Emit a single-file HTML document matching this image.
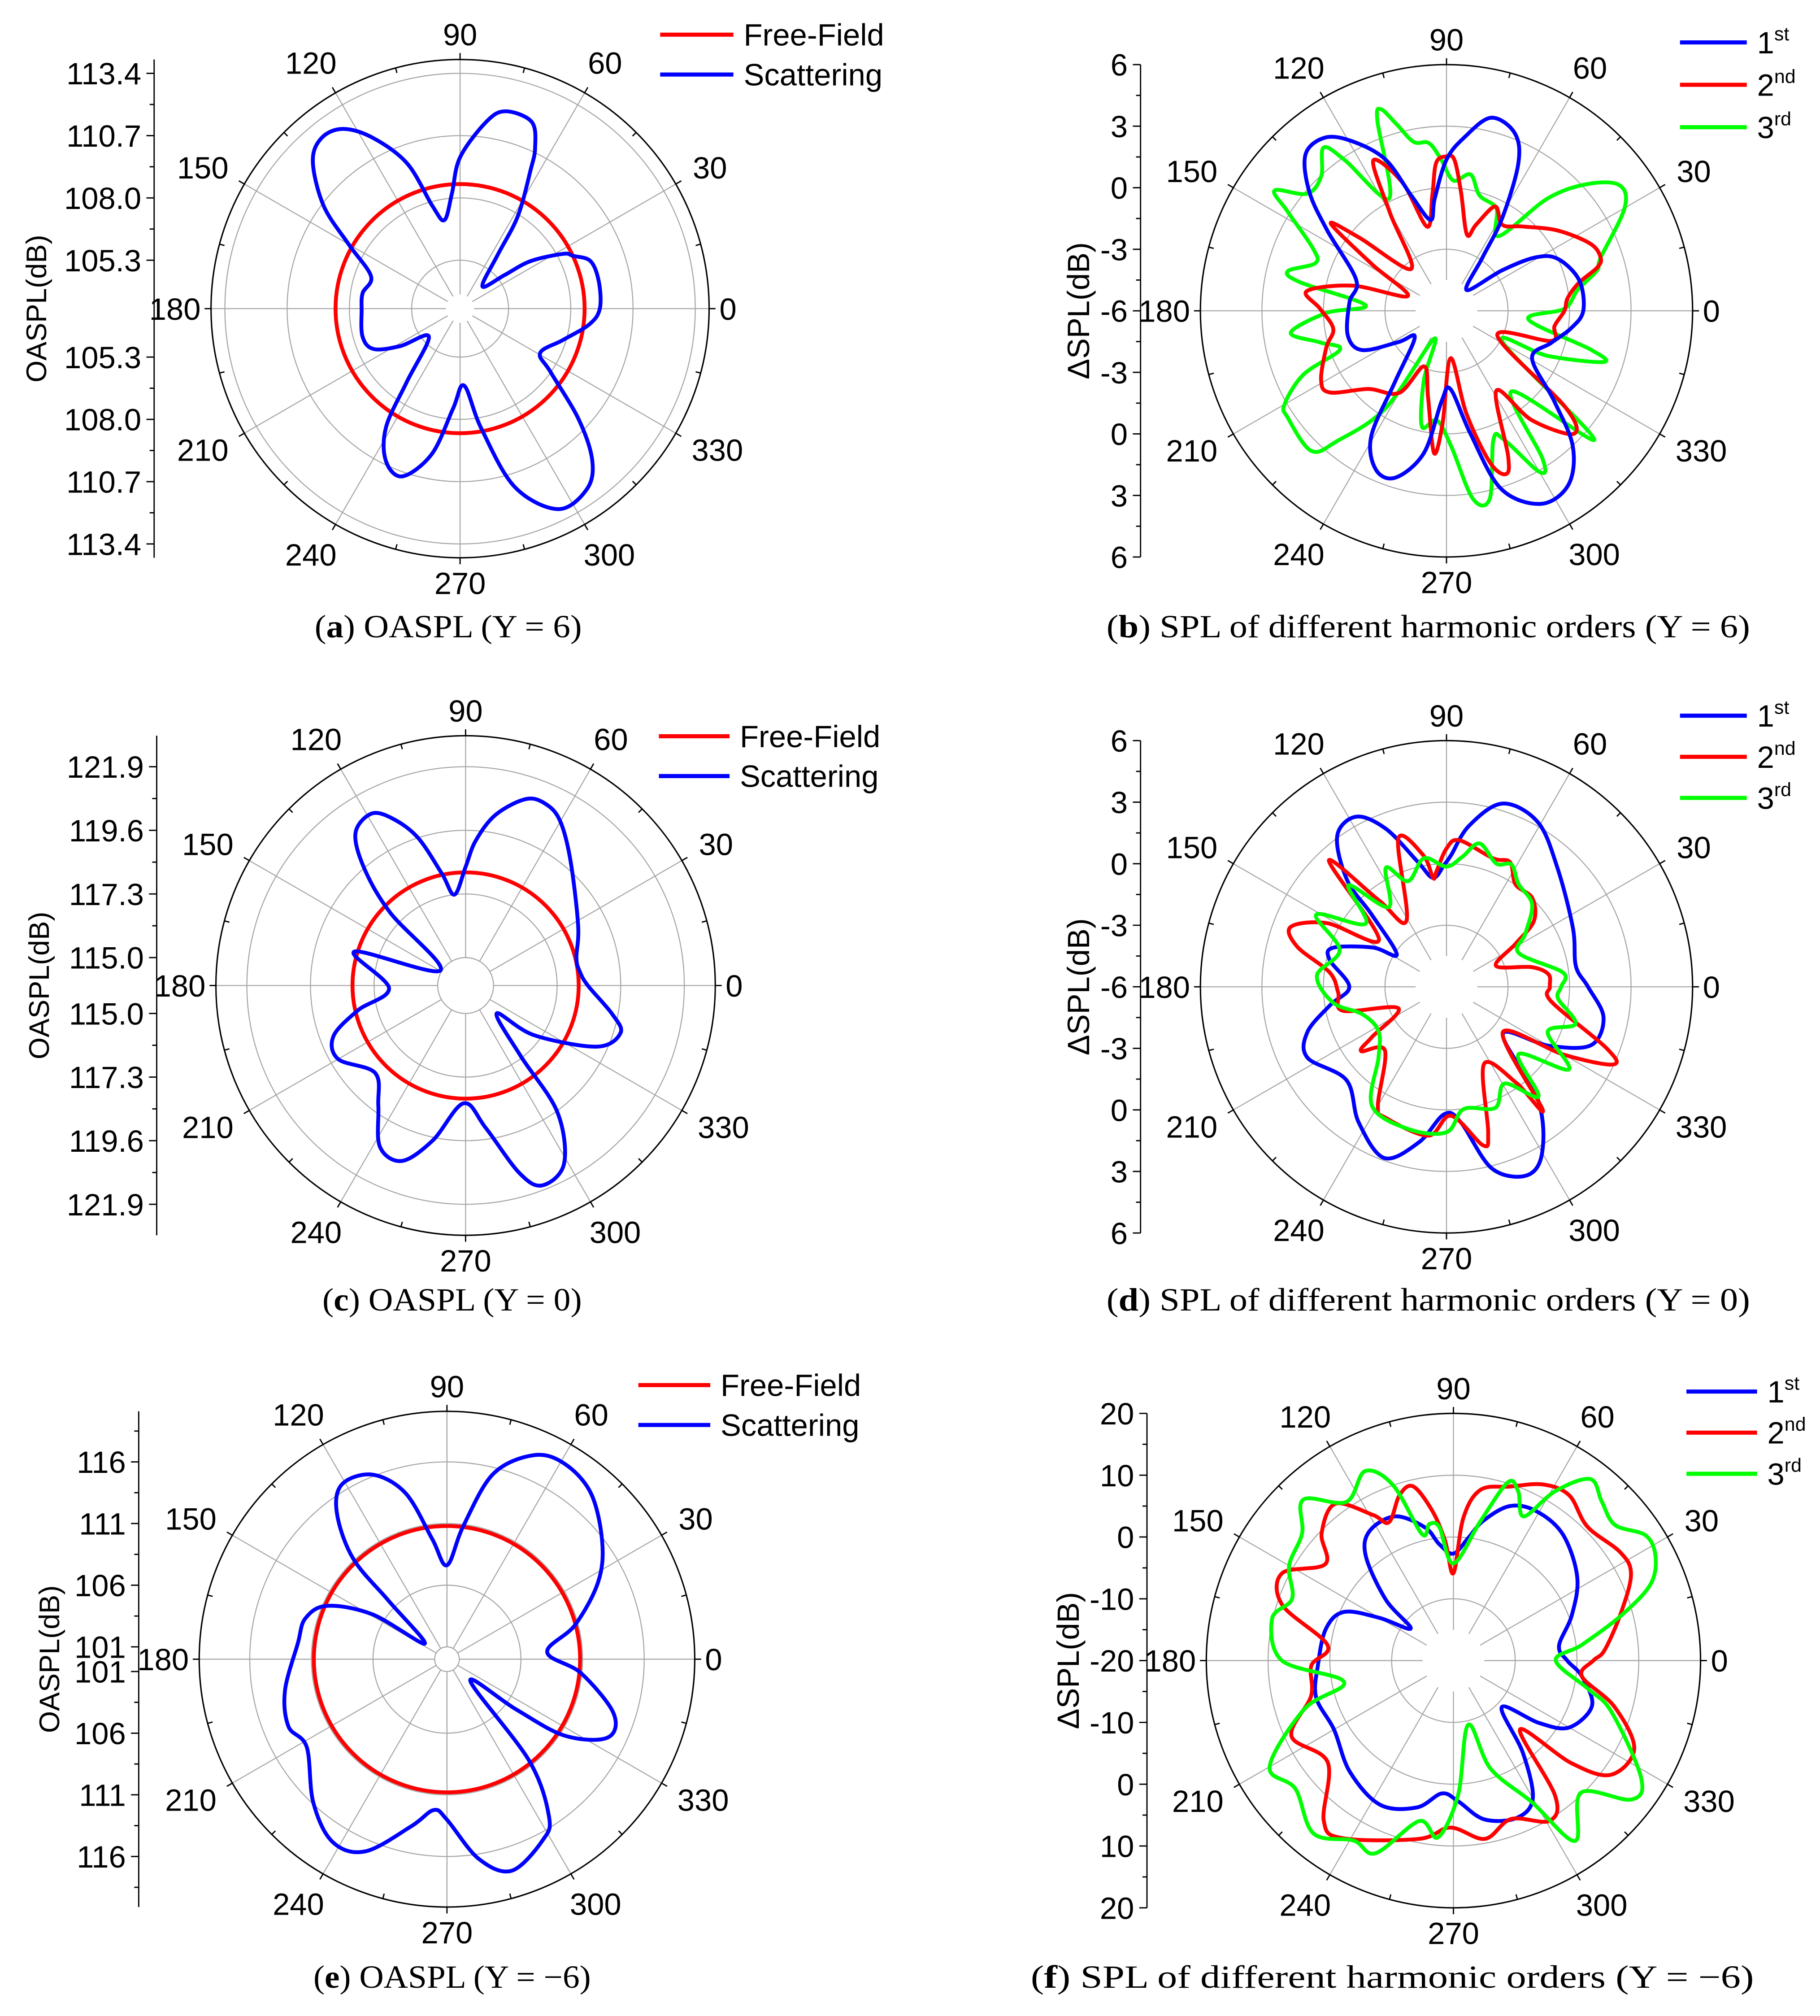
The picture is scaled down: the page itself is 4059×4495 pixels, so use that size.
<!DOCTYPE html>
<html><head><meta charset="utf-8"><title>Polar SPL charts</title>
<style>
html,body{margin:0;padding:0;background:#fff;}
svg{display:block;}
</style></head>
<body>
<svg id="chart" xmlns="http://www.w3.org/2000/svg" width="4059" height="4495" viewBox="0 0 1417 1569" preserveAspectRatio="none"></svg>
<script>
// ---------- Panel (a) OASPL Y=6 ----------
const aTicks = [105.3, 108.0, 110.7, 113.4];
const aFree = [108.6];
const aBlueAng = [0,11,20,25,28,34,37,45,55,58,63,65,69,77,82,90,94,100,105,110,117,123,129,135,143,150,160,171,181,196,205,212,222,234,238,244,251,259,266,273,280,287,296,305,311,317,325,331,343,353];
const aBlueVal = [109.26,109.33,109.22,108.61,108.26,106.88,105.62,104.57,106.04,107.92,109.93,110.90,111.87,111.98,111.38,109.76,108.22,107.10,107.79,109.89,111.50,112.49,112.73,112.23,110.61,108.78,107.31,107.48,107.47,107.60,107.34,106.27,105.02,107.14,109.26,110.54,110.89,109.62,107.54,106.54,108.46,111.27,112.87,112.77,111.94,110.23,107.99,107.17,107.86,108.84];

// ---------- Panel (b) harmonics Y=6 ----------
const bTicks = [-6, -3, 0, 3, 6];
const b1Ang = [0,13,25,31,36,46,56,59,64,69,77,84,90,96,100,107,112,119,125,132,139,146,161,175,194,205,213,220,234,239,246,253,261,267,273,281,287,296,305,313,320,331,343,352];
const b1Val = [0.67,0.64,-0.01,-0.95,-2.63,-4.59,-2.84,-0.72,1.99,3.28,3.66,2.52,1.37,-0.50,-1.50,-0.12,1.96,3.44,4.31,4.27,2.87,1.02,-1.34,-1.25,-1.04,-1.47,-3.20,-3.98,-1.74,1.12,2.47,2.50,1.01,-1.61,-2.17,0.09,3.06,4.47,4.36,3.03,0.86,-1.23,-0.66,0.13];
const b2Ang = [0,6,12,16,19,25,36,48,57,65,71,75,83,87,90,94,97,103,109,116,120,130,140,143,148,159,165,172,179,189,197,209,215,225,240,248,258,265,268,275,281,286,290,293,302,308,316,321,334,344,352];
const b2Val = [-0.25,-0.06,0.61,1.64,1.95,1.74,0.67,-0.47,-1.0,-0.39,-1.55,-2.15,-0.18,1.37,1.53,1.23,-0.33,-1.79,0.63,2.15,-0.49,-3.33,-0.45,1.06,-1.71,-3.98,-1.26,0.88,0.17,-0.41,0.13,0.99,0.94,-0.61,-1.38,-3.08,-1.68,0.96,-0.50,-3.68,-0.88,1.69,2.47,1.69,-1.41,0.77,2.63,1.44,-3.24,-0.68,-0.68];
const b3Ang = [1,9,15,19,30,36,42,48,55,64,74,80,87,92,96,101,105,108,110,117,124,127,133,140,145,148,155,160,166,169,176,181,188,194,200,204,210,214,226,230,238,246,252,258,265,272,278,283,290,294,300,303,309,319,331,336,342,345,354];
const b3Val = [-0.25,0.47,1.60,1.95,4.03,4.42,3.23,1.37,-1.55,-0.45,-0.15,0.75,0.36,1.37,2.22,2.39,3.42,4.33,3.85,0.15,2.85,3.96,2.96,2.88,4.23,3.14,1.18,0.80,1.98,1.25,-2.04,-0.15,1.67,0.36,-0.47,1.63,3.12,3.33,3.49,2.28,-0.42,-4.51,-2.41,-0.23,-0.64,0.61,3.25,3.39,0.69,0.86,3.07,2.60,-0.95,3.55,-2.87,-0.60,2.06,1.26,-1.98];

// ---------- Panel (c) OASPL Y=0 ----------
const cTicks = [115.0, 117.3, 119.6, 121.9];
const cFree = [118.08];
const cBlueAng = [0,7,14,28,50,60,66,72,80,86,90,97,102,108,114,119,126,131,136,149,163,182,193,201,210,224,234,242,250,258,269,278,286,291,299,306,308,318,324,335,343,349];
const cBlueVal = [118.41,118.15,118.12,118.60,119.89,120.84,121.16,121.08,120.26,119.24,118.28,117.30,118.13,119.63,120.63,121.08,120.77,119.55,117.78,115.05,118.19,116.76,117.99,119.11,119.31,118.54,119.36,120.59,120.74,119.72,118.25,119.18,121.04,121.73,121.34,119.62,117.23,115.50,117.04,119.22,119.85,119.39];

// ---------- Panel (d) harmonics Y=0 ----------
const dTicks = [-6, -3, 0, 3, 6];
const d1Ang = [0,9,25,47,61,73,82,88,91,97,103,111,118,126,133,136,147,152,161,167,180,189,198,207,223,237,250,260,269,276,284,293,300,309,320,330,338,349];
const d1Val = [0.9,0.39,0.80,1.93,3.18,3.34,1.93,0.42,-0.04,-0.65,0.26,2.25,3.39,3.07,1.10,-0.92,-3.11,-1.92,-0.15,-0.15,-1.26,-0.25,1.13,1.61,0.67,1.87,2.88,1.69,0.21,0.64,3.12,3.99,3.33,1.09,-2.41,-0.26,1.60,1.80];
const d2Ang = [0,7,13,23,32,37,46,56,63,70,85,90,95,97,100,108,121,128,133,145,152,159,165,173,183,193,204,214,217,226,240,245,263,272,283,286,296,306,308,321,330,335,339,352];
const d2Val = [-0.96,-0.99,-1.74,-3.38,-2.01,-0.66,0.02,0.02,0.82,0.66,1.17,0.74,-0.36,-0.65,0.51,1.60,-2.22,-0.66,2.41,-1.98,0.61,2.14,1.53,-0.26,-0.71,-0.82,-3.43,-1.61,-0.79,-1.68,0.69,1.04,1.31,0.29,1.93,1.37,-1.82,-0.22,1.63,-2.47,0.63,2.96,2.36,-0.84];
const d3Ang = [0,7,25,34,44,55,62,68,77,83,90,100,110,117,126,134,142,151,161,175,188,198,213,226,238,255,270,278,292,301,310,317,326,336,344,354];
const d3Val = [-0.41,-0.28,-2.11,-1.36,-0.20,0.12,0.75,0.48,1.17,0.39,-0.14,0.36,-0.52,0.51,-1.20,0.88,-1.0,1.26,-0.49,0.34,-0.42,-1.68,-2.04,-1.23,0.85,1.18,1.09,0.02,0.36,-0.50,0.98,-1.19,1.20,-0.60,0.55,-0.53];

// ---------- Panel (e) OASPL Y=-6 ----------
const eTicks = [101, 106, 111, 116];
const eFree = [110.8];
const eBlueAng = [4,15,27,37,49,59,67,76,83,90,97,104,112,121,127,133,135,145,149,156,164,174,191,203,212,227,238,247,258,265,270,279,287,298,303,309,317,324,327,334,342,354];
const eBlueVal = [108.15,110.77,113.76,115.77,117.81,118.50,117.97,115.48,110.88,107.62,109.82,113.87,116.14,116.54,114.84,111.17,106.67,102.20,107.06,110.64,111.96,112.17,113.39,113.97,113.42,115.90,117.49,116.93,113.84,112.28,113.02,116.38,117.94,116.59,115.19,110.61,102.59,106.91,111.38,114.50,114.21,110.95];

// ---------- Panel (f) harmonics Y=-6 ----------
const fTicks = [-20, -10, 0, 10, 20];
const f1Ang = [0,8,21,34,49,61,70,78,83,90,97,102,112,123,130,138,143,150,156,166,182,195,210,227,243,256,265,272,281,292,300,307,316,324,330,342,353];
const f1Val = [-1.58,-2.74,0.53,4.17,7.02,7.65,6.60,3.11,0.05,-2.69,-1.00,2.01,5.17,4.96,2.06,-5.28,-11.35,-6.17,-0.63,1.27,1.95,3.01,2.32,4.59,6.17,4.49,1.58,2.80,6.17,7.44,5.70,-1.32,-9.13,-2.80,1.64,3.59,0.95];
const f2Ang = [0,4,16,26,33,45,55,63,72,81,86,90,94,98,103,108,115,119,127,136,143,153,162,173,182,194,205,219,231,238,259,269,280,290,301,307,314,319,324,334,344,353];
const f2Val = [2.64,4.54,8.23,11.98,12.19,10.66,12.66,11.98,9.60,7.97,3.17,-5.86,-0.53,4.43,8.92,8.18,4.70,6.97,11.77,9.66,5.96,11.13,9.13,0.53,3.01,3.75,8.92,6.17,13.35,13.88,9.39,7.02,9.29,7.28,10.24,7.33,-4.49,5.28,11.45,12.56,7.12,0.95];
const f3Ang = [0,7,15,21,27,33,40,47,53,59,64,69,73,79,90,96,100,104,109,115,124,133,140,150,159,167,180,191,198,210,219,231,241,248,258,265,272,283,289,299,304,314,322,328,342,348];
const f3Val = [-3.43,0.95,8.07,14.09,16.73,17.15,14.14,15.20,16.78,11.98,5.96,9.29,10.18,3.01,-4.27,1.69,2.43,1.11,10.03,13.83,10.98,15.62,11.98,10.71,7.97,10.13,7.76,-1.95,5.38,14.35,12.93,15.99,13.30,13.61,6.54,8.71,1.74,-9.34,-1.48,6.17,15.20,9.71,16.52,15.83,6.91,2.37];

const angleLabels = [0,30,60,90,120,150,180,210,240,270,300,330];

const NS = 'http://www.w3.org/2000/svg';
const svg = document.getElementById('chart');
const SANS = '"Liberation Sans", Arial, sans-serif';
const SERIF = '"Liberation Serif", "Times New Roman", serif';

function mk(tag, parent, name, interact) {
  const e = document.createElementNS(NS, tag);
  
  
  parent.appendChild(e);
  return e;
}
function setA(e, attrs) { for (const k in attrs) e.setAttribute(k, attrs[k]); return e; }

function makeScale(vmin, vmax, R) { return v => Math.max(0, (v - vmin) / (vmax - vmin) * R); }

function smoothClosed(pts) {
  const n = pts.length;
  let d = 'M' + pts[0][0].toFixed(2) + ',' + pts[0][1].toFixed(2);
  for (let i = 0; i < n; i++) {
    const p0 = pts[(i - 1 + n) % n], p1 = pts[i], p2 = pts[(i + 1) % n], p3 = pts[(i + 2) % n];
    const c1x = p1[0] + (p2[0] - p0[0]) / 6, c1y = p1[1] + (p2[1] - p0[1]) / 6;
    const c2x = p2[0] - (p3[0] - p1[0]) / 6, c2y = p2[1] - (p3[1] - p1[1]) / 6;
    d += 'C' + c1x.toFixed(2) + ',' + c1y.toFixed(2) + ' ' + c2x.toFixed(2) + ',' + c2y.toFixed(2) + ' ' + p2[0].toFixed(2) + ',' + p2[1].toFixed(2);
  }
  return d + 'Z';
}

function panel(cfg) {
  const g = mk('g', svg, 'panel-' + cfg.id, false);
  const { cx, cy, R } = cfg;
  const sc = makeScale(cfg.vmin, cfg.vmax, R);
  cfg.rings.forEach((v, i) => {
    const c = mk('circle', g, 'grid-ring', false);
    setA(c, { cx, cy, r: sc(v), fill: 'none', stroke: '#a6a6a6', 'stroke-width': 0.8 });
  });
  for (let a = 0; a < 360; a += 30) {
    const t = a * Math.PI / 180;
    const l = mk('line', g, 'radial-grid-line', false);
    setA(l, { x1: cx + cfg.hole * Math.cos(t), y1: cy - cfg.hole * Math.sin(t), x2: cx + R * Math.cos(t), y2: cy - R * Math.sin(t), stroke: '#a6a6a6', 'stroke-width': 0.8 });
  }
  const oc = mk('circle', g, 'outer-circle', false);
  setA(oc, { cx, cy, r: R, fill: 'none', stroke: '#000', 'stroke-width': 1.1 });
  for (let a = 0; a < 360; a += 15) {
    const t = a * Math.PI / 180;
    const major = a % 30 === 0;
    const r1 = major ? R : R - 4, r2 = major ? R + 5 : R;
    const tk = mk('line', g, 'angle-tick', false);
    setA(tk, { x1: cx + r1 * Math.cos(t), y1: cy - r1 * Math.sin(t), x2: cx + r2 * Math.cos(t), y2: cy - r2 * Math.sin(t), stroke: '#000', 'stroke-width': 1 });
  }
  angleLabels.forEach(a => {
    const t = a * Math.PI / 180;
    const s = String(a);
    const hw = s.length * 6.7, hh = 8.6;
    const extra = 9 * Math.abs(Math.sin(2 * t)) + 3 * Math.abs(Math.sin(t));
    const rr = R + 8 + extra;
    const x = cx + rr * Math.cos(t) + Math.cos(t) * hw;
    const y = cy - rr * Math.sin(t) - Math.sin(t) * hh;
    const tx = mk('text', g, 'angle-label-' + a, false);
    setA(tx, { x, y: y + 8.6, 'text-anchor': 'middle', 'font-family': SANS, 'font-size': 24, fill: '#000' });
    tx.textContent = s;
  });
  if (cfg.free) {
    const fc = mk('circle', g, 'free-field-curve', false);
    setA(fc, { cx, cy, r: sc(cfg.free[0]), fill: 'none', stroke: '#ff0000', 'stroke-width': 3 });
  }
  cfg.series.forEach(s => {
    const n = Math.min(s.ang.length, s.val.length);
    const pts = [];
    for (let i = 0; i < n; i++) {
      const t = s.ang[i] * Math.PI / 180, r = sc(s.val[i]);
      pts.push([cx + r * Math.cos(t), cy - r * Math.sin(t)]);
    }
    const p = mk('path', g, s.name, false);
    setA(p, { d: smoothClosed(pts), fill: 'none', stroke: s.color, 'stroke-width': 3, 'stroke-linejoin': 'round' });
  });
  const ax = mk('line', g, 'y-axis-line', false);
  setA(ax, { x1: cfg.axisX, y1: cy - R, x2: cfg.axisX, y2: cy + R, stroke: '#000', 'stroke-width': 1 });
  const ticks = cfg.ticks;
  const positions = [];
  ticks.forEach(v => { const r = sc(v); positions.push(r); });
  const minors = [];
  for (let i = 0; i < ticks.length - 1; i++) minors.push(sc((ticks[i] + ticks[i + 1]) / 2));
  const step = ticks[1] - ticks[0];
  const beyond = sc(ticks[ticks.length - 1] + step / 2);
  if (beyond <= R + 0.5) minors.push(beyond);
  [1, -1].forEach(sign => {
    ticks.forEach((v, i) => {
      const r = positions[i];
      if (r < 0.5 && sign < 0) return;
      const y = cy - sign * r;
      const tk = mk('line', g, 'y-axis-tick', false);
      setA(tk, { x1: cfg.axisX - 6, y1: y, x2: cfg.axisX, y2: y, stroke: '#000', 'stroke-width': 1 });
      const lb = mk('text', g, 'y-axis-tick-label', false);
      setA(lb, { x: cfg.axisX - 10, y: y + 8.6, 'text-anchor': 'end', 'font-family': SANS, 'font-size': 24, fill: '#000' });
      lb.textContent = cfg.fmt(v);
    });
    minors.forEach(r => {
      const y = cy - sign * r;
      const tk = mk('line', g, 'y-axis-minor-tick', false);
      setA(tk, { x1: cfg.axisX - 3.5, y1: y, x2: cfg.axisX, y2: y, stroke: '#000', 'stroke-width': 1 });
    });
  });
  const tt = mk('text', g, 'y-axis-title', false);
  setA(tt, { x: 0, y: 0, transform: 'translate(' + cfg.titleX + ',' + cy + ') rotate(-90)', 'text-anchor': 'middle', 'font-family': SANS, 'font-size': cfg.titleSize, fill: '#000' });
  tt.textContent = cfg.title;
  cfg.legend.forEach((it, i) => {
    const y = cfg.legY + i * cfg.legDy;
    const ln = mk('line', g, 'legend-swatch-' + it.key, false);
    setA(ln, { x1: cfg.legX, y1: y, x2: cfg.legX + cfg.legW, y2: y, stroke: it.color, 'stroke-width': 3.2 });
    const tx = mk('text', g, 'legend-label-' + it.key, false);
    setA(tx, { x: cfg.legX + cfg.legW + 8, y: y + 8.5, 'font-family': SANS, 'font-size': 24, fill: '#000' });
    tx.textContent = it.text;
    if (it.sup) {
      const sp = document.createElementNS(NS, 'tspan');
      
      
      setA(sp, { 'font-size': 15, dy: -10 });
      sp.textContent = it.sup;
      tx.appendChild(sp);
    }
  });
  const cap = mk('text', g, 'caption-' + cfg.id, false);
  setA(cap, { x: cfg.capX, y: cfg.capY, 'text-anchor': 'middle', 'font-family': SERIF, 'font-size': 25, fill: '#000', textLength: cfg.capW, lengthAdjust: 'spacingAndGlyphs' });
  const t1 = document.createElementNS(NS, 'tspan'); t1.textContent = '(';
  const t2 = document.createElementNS(NS, 'tspan'); t2.setAttribute('font-weight', 'bold'); t2.textContent = cfg.id;
  const t3 = document.createElementNS(NS, 'tspan'); t3.textContent = ') ' + cfg.caption;
  cap.appendChild(t1); cap.appendChild(t2); cap.appendChild(t3);
}

const oaLegend = [{ key: 'free-field', color: '#ff0000', text: 'Free-Field' }, { key: 'scattering', color: '#0000ff', text: 'Scattering' }];
const hLegend = [{ key: '1st', color: '#0000ff', text: '1', sup: 'st' }, { key: '2nd', color: '#ff0000', text: '2', sup: 'nd' }, { key: '3rd', color: '#00ff00', text: '3', sup: 'rd' }];
const f1 = v => v.toFixed(1), f0 = v => String(v);

panel({ id: 'a', cx: 358.2, cy: 240.2, R: 193.9, vmin: 103.2, vmax: 114.0, rings: aTicks, hole: 11, ticks: aTicks, fmt: f1,
  axisX: 120, titleX: 36, title: 'OASPL(dB)', titleSize: 22, free: aFree,
  series: [{ name: 'scattering-curve', ang: aBlueAng, val: aBlueVal, color: '#0000ff' }],
  legend: oaLegend, legX: 514, legY: 27, legDy: 31, legW: 57,
  capX: 349, capY: 496, capW: 208, caption: 'OASPL (Y = 6)' });

panel({ id: 'b', cx: 1126.2, cy: 241.9, R: 191.6, vmin: -6, vmax: 6, rings: [-3, 0, 3], hole: 24, ticks: bTicks, fmt: f0,
  axisX: 888, titleX: 848, title: 'ΔSPL(dB)', titleSize: 24,
  series: [{ name: 'harmonic-3rd-curve', ang: b3Ang, val: b3Val, color: '#00ff00' },
           { name: 'harmonic-2nd-curve', ang: b2Ang, val: b2Val, color: '#ff0000' },
           { name: 'harmonic-1st-curve', ang: b1Ang, val: b1Val, color: '#0000ff' }],
  legend: hLegend, legX: 1308, legY: 33, legDy: 33, legW: 52,
  capX: 1112, capY: 496, capW: 501, caption: 'SPL of different harmonic orders (Y = 6)' });

panel({ id: 'c', cx: 362.5, cy: 767.0, R: 194.4, vmin: 113.99, vmax: 123.02, rings: cTicks, hole: 21.7, ticks: cTicks, fmt: f1,
  axisX: 122, titleX: 38, title: 'OASPL(dB)', titleSize: 22, free: cFree,
  series: [{ name: 'scattering-curve', ang: cBlueAng, val: cBlueVal, color: '#0000ff' }],
  legend: oaLegend, legX: 513, legY: 573, legDy: 31, legW: 55,
  capX: 352, capY: 1020, capW: 202, caption: 'OASPL (Y = 0)' });

panel({ id: 'd', cx: 1126.2, cy: 768.0, R: 191.6, vmin: -6, vmax: 6, rings: [-3, 0, 3], hole: 24, ticks: dTicks, fmt: f0,
  axisX: 888, titleX: 848, title: 'ΔSPL(dB)', titleSize: 24,
  series: [{ name: 'harmonic-1st-curve', ang: d1Ang, val: d1Val, color: '#0000ff' },
           { name: 'harmonic-2nd-curve', ang: d2Ang, val: d2Val, color: '#ff0000' },
           { name: 'harmonic-3rd-curve', ang: d3Ang, val: d3Val, color: '#00ff00' }],
  legend: hLegend, legX: 1308, legY: 557, legDy: 32, legW: 52,
  capX: 1112, capY: 1020, capW: 501, caption: 'SPL of different harmonic orders (Y = 0)' });

panel({ id: 'e', cx: 348.0, cy: 1291.3, R: 192.9, vmin: 100, vmax: 120.1, rings: eTicks, hole: 9.6, ticks: eTicks, fmt: f0,
  axisX: 108, titleX: 46, title: 'OASPL(dB)', titleSize: 22, free: eFree,
  series: [{ name: 'scattering-curve', ang: eBlueAng, val: eBlueVal, color: '#0000ff' }],
  legend: oaLegend, legX: 497, legY: 1078, legDy: 31, legW: 56,
  capX: 352, capY: 1547, capW: 216, caption: 'OASPL (Y = \u22126)' });

panel({ id: 'f', cx: 1131.6, cy: 1292.4, R: 192.4, vmin: -20, vmax: 20, rings: [-10, 0, 10], hole: 24, ticks: fTicks, fmt: f0,
  axisX: 893, titleX: 840, title: 'ΔSPL(dB)', titleSize: 24,
  series: [{ name: 'harmonic-1st-curve', ang: f1Ang, val: f1Val, color: '#0000ff' },
           { name: 'harmonic-2nd-curve', ang: f2Ang, val: f2Val, color: '#ff0000' },
           { name: 'harmonic-3rd-curve', ang: f3Ang, val: f3Val, color: '#00ff00' }],
  legend: hLegend, legX: 1313, legY: 1083, legDy: 32, legW: 55,
  capX: 1084, capY: 1547, capW: 563, caption: 'SPL of different harmonic orders (Y = \u22126)' });
</script>
</body></html>
